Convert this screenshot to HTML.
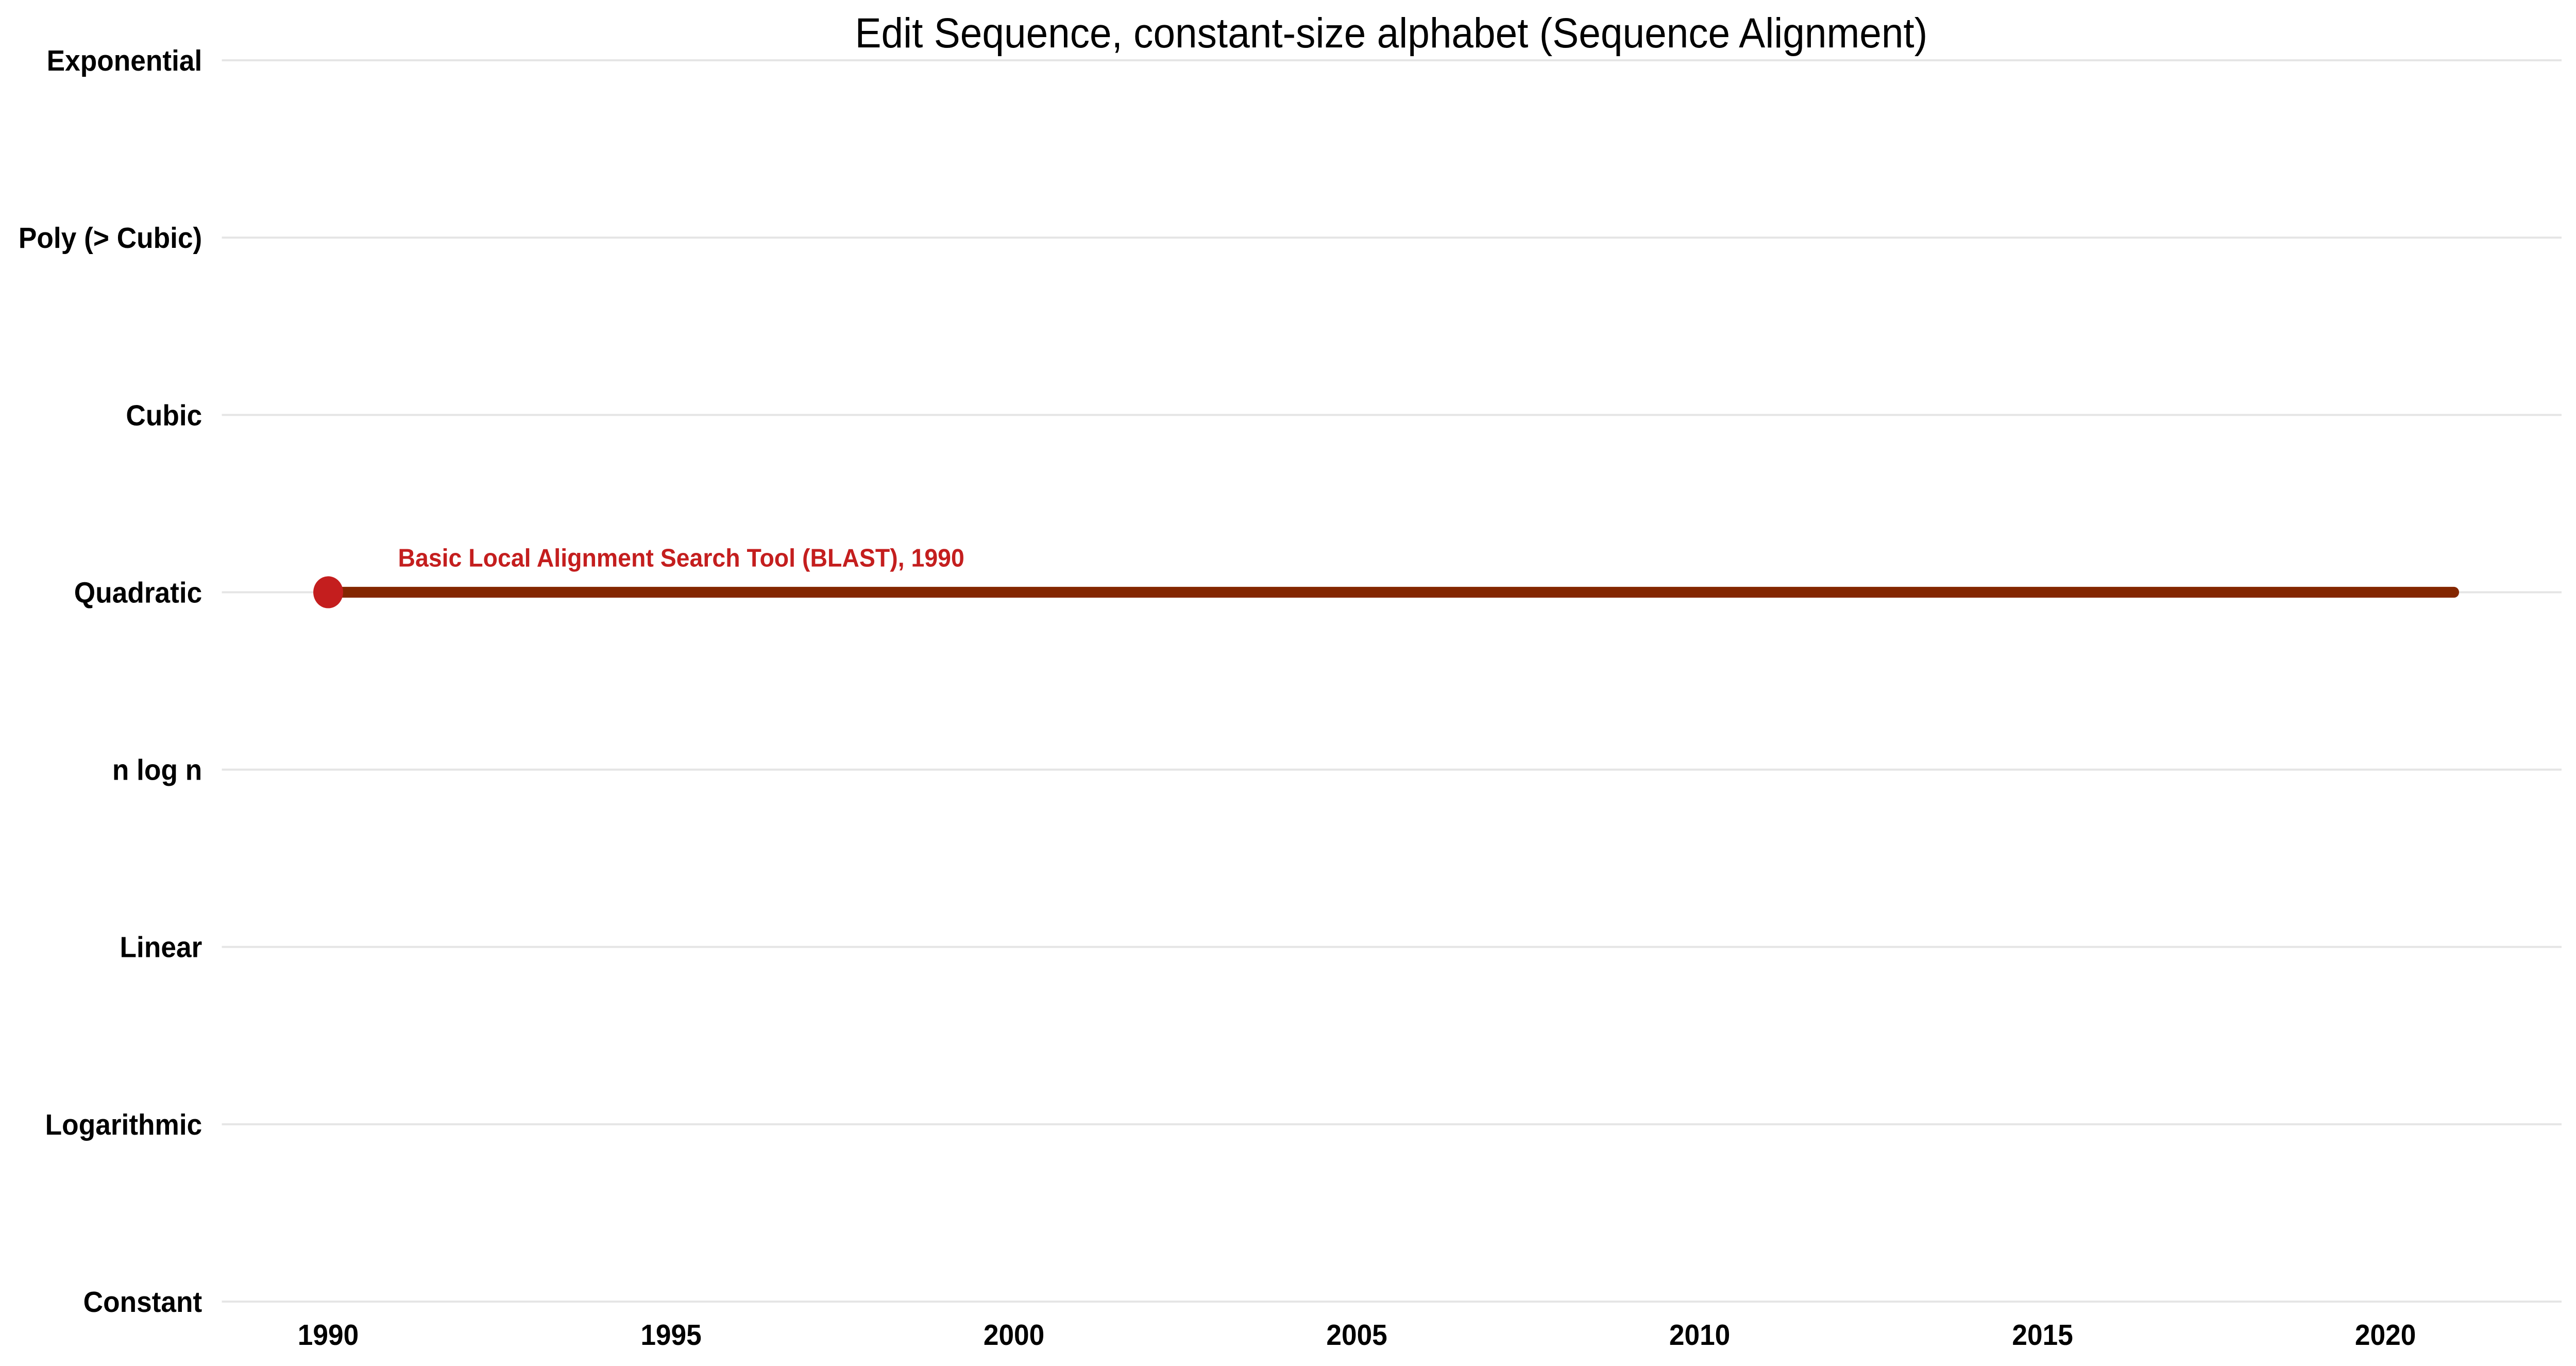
<!DOCTYPE html>
<html><head><meta charset="utf-8"><style>
html,body{margin:0;padding:0;background:#fff;width:100%;height:100%;overflow:hidden;}
svg{display:block;width:100vw;height:100vh;font-family:"Liberation Sans",Arial,sans-serif;}
</style></head><body>
<svg id="chart" viewBox="0 0 5353 2651" preserveAspectRatio="none" xmlns="http://www.w3.org/2000/svg">
<text x="2891" y="92" font-size="82" text-anchor="middle" fill="#000">Edit Sequence, constant-size alphabet (Sequence Alignment)</text>
<g id="grid"></g>
<g id="ylabels"></g>
<g id="xlabels"></g>
<g id="marks"></g>
</svg>
<script>
const categories = ["Constant","Logarithmic","Linear","n log n","Quadratic","Cubic","Poly (> Cubic)","Exponential"];
const xTicks = [1990,1995,2000,2005,2010,2015,2020];
const stepYears = [1990,2021];
const stepLevels = [4,4];
const pointYears = [1990];
const pointLevels = [4];
const pointLabels = ["Basic Local Alignment Search Tool (BLAST), 1990"];

const NS="http://www.w3.org/2000/svg";
function X(yr){return 682+(yr-1990)*(4957-682)/30;}
function Y(l){return 2526-l*(2526-117)/7;}
function mk(t,a,p){const e=document.createElementNS(NS,t);for(const k in a)e.setAttribute(k,a[k]);p.appendChild(e);return e;}
const grid=document.getElementById('grid'),yl=document.getElementById('ylabels'),xl=document.getElementById('xlabels'),marks=document.getElementById('marks');
categories.forEach((c,i)=>{
  const g=mk('line',{x1:461,x2:5323,y1:Y(i),y2:Y(i),stroke:'#e5e5e5','stroke-width':4},grid);
  
  
  const t=mk('text',{x:420,y:Y(i)+20,'font-size':57,'font-weight':'bold','text-anchor':'end',fill:'#000'},yl);
  t.textContent=c;
  
  
});
xTicks.forEach(v=>{
  const t=mk('text',{x:X(v),y:2610,'font-size':57,'font-weight':'bold','text-anchor':'middle',fill:'#000'},xl);
  t.textContent=v;
  
  
});
let d='';
stepYears.forEach((yr,i)=>{d+=(i?'L':'M')+X(yr)+' '+Y(stepLevels[i]);});
const path=mk('path',{d:d,stroke:'#832600','stroke-width':21,fill:'none','stroke-linecap':'round'},marks);


pointYears.forEach((yr,i)=>{
  const c=mk('circle',{cx:X(yr),cy:Y(pointLevels[i]),r:31,fill:'#c41e1e'},marks);
  
  
  const t=mk('text',{x:X(yr)+145,y:Y(pointLevels[i])-50,'font-size':49,'font-weight':'bold',fill:'#c41e1e',textLength:1177,lengthAdjust:'spacingAndGlyphs'},marks);
  t.textContent=pointLabels[i];
  
  
});
</script>
</body></html>
